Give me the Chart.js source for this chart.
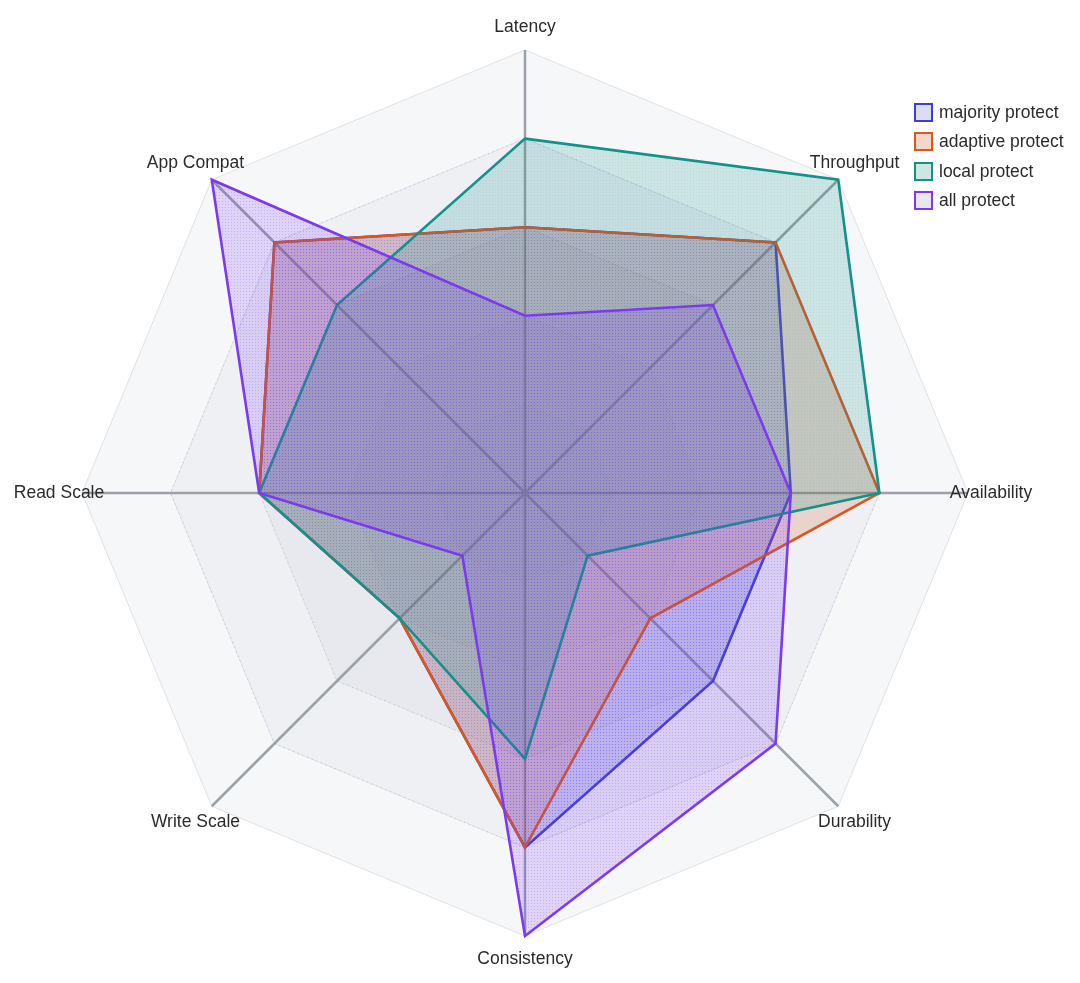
<!DOCTYPE html>
<html>
<head>
<meta charset="utf-8">
<script src="https://cdn.jsdelivr.net/npm/chart.js@4.4.1/dist/chart.umd.min.js"></script>
<style>
  html, body { margin: 0; padding: 0; background: #ffffff; }
  #wrap { position: relative; width: 1080px; height: 983px; }
  #legend { position: absolute; left: 914px; top: 98px; font-family: "Liberation Sans", Arial, sans-serif; font-size: 17.5px; color: #2b2b2b; }
  .item { display: flex; align-items: center; height: 29.3px; }
  .box { width: 15px; height: 15px; border: 2px solid; margin-right: 6px; box-sizing: content-box; }
</style>
</head>
<body>
<div id="wrap">
  <canvas id="c" width="1080" height="983"></canvas>
  <div id="legend"></div>
</div>
<script>
// ---- data ----
const categories = ["Latency", "Throughput", "Availability", "Durability", "Consistency", "Write Scale", "Read Scale", "App Compat"];
const seriesNames = ["majority protect", "adaptive protect", "local protect", "all protect"];
const majorityProtect = [3, 4, 3, 3, 4, 2, 3, 4];
const adaptiveProtect = [3, 4, 4, 2, 4, 2, 3, 4];
const localProtect = [4, 5, 4, 1, 3, 2, 3, 3];
const allProtect = [2, 3, 3, 4, 5, 1, 3, 5];
const ringTicks = [1, 2, 3, 4, 5];

// ---- styles ----
const lineColors = ["#3b3fd8", "#d9581f", "#14918a", "#7c3aed"];
const rgbs = ["59,63,216", "217,88,31", "20,145,138", "124,58,237"];
const dotAlpha = [0.3, 0, 0.1, 0.24];
const legendFill = ["#dcdcf2", "#f5d6c7", "#cbe7e4", "#e8e6f0"];

function makePattern(rgb, alpha, dAlpha) {
  const s = 3;
  const c = document.createElement('canvas');
  c.width = s; c.height = s;
  const g = c.getContext('2d');
  g.fillStyle = `rgba(${rgb},${alpha})`;
  g.fillRect(0, 0, s, s);
  if (dAlpha > 0) {
    g.fillStyle = `rgba(${rgb},${dAlpha})`;
    g.fillRect(0, 0, 1, 1);
  }
  return g.createPattern(c, 'repeat');
}

const seriesValues = [majorityProtect, adaptiveProtect, localProtect, allProtect];

const datasets = seriesValues.map((vals, i) => ({
  label: seriesNames[i],
  data: vals,
  order: seriesValues.length - 1 - i,
  borderColor: lineColors[i],
  borderWidth: 2.6,
  borderJoinStyle: 'miter',
  backgroundColor: makePattern(rgbs[i], 0.19, dotAlpha[i]),
  fill: true,
  pointRadius: 0,
  pointHoverRadius: 0,
  tension: 0
}));

function ringPath(ctx, sc, r) {
  ctx.beginPath();
  for (let i = 0; i < categories.length; i++) {
    const p = sc.getPointPosition(i, r);
    if (i === 0) ctx.moveTo(p.x, p.y); else ctx.lineTo(p.x, p.y);
  }
  ctx.closePath();
}

const bandsPlugin = {
  id: 'bands',
  beforeDraw(chart) {
    const sc = chart.scales.r;
    const ctx = chart.ctx;
    ctx.save();
    for (let k = ringTicks.length - 1; k >= 0; k--) {
      ringPath(ctx, sc, sc.getDistanceFromCenterForValue(ringTicks[k]));
      ctx.fillStyle = 'rgba(125,135,160,0.065)';
      ctx.fill();
    }
    ctx.restore();
  },
  afterDatasetsDraw(chart) {
    const sc = chart.scales.r;
    const ctx = chart.ctx;
    ctx.save();
    ctx.setLineDash([1, 4]);
    ctx.lineWidth = 1;
    ctx.strokeStyle = 'rgba(110,100,150,0.3)';
    for (let k = 0; k < ringTicks.length - 1; k++) {
      ringPath(ctx, sc, sc.getDistanceFromCenterForValue(ringTicks[k]));
      ctx.stroke();
    }
    ctx.setLineDash([]);
    ctx.font = '17.5px "Liberation Sans", Arial, sans-serif';
    ctx.fillStyle = '#2b2b2b';
    ctx.textAlign = 'center';
    ctx.textBaseline = 'middle';
    for (let i = 0; i < categories.length; i++) {
      const p = sc.getPointPosition(i, sc.drawingArea + 23);
      ctx.fillText(categories[i], p.x, p.y);
    }
    ctx.restore();
  }
};

new Chart(document.getElementById('c'), {
  type: 'radar',
  data: { labels: categories, datasets },
  options: {
    responsive: false,
    animation: false,
    devicePixelRatio: 1,
    layout: { padding: { left: 82, right: 112, top: 50, bottom: 47 } },
    plugins: { legend: { display: false }, tooltip: { enabled: false } },
    elements: { line: { tension: 0 } },
    scales: {
      r: {
        min: 0,
        max: 5,
        beginAtZero: true,
        ticks: { display: false, stepSize: 1 },
        pointLabels: { display: false },
        grid: { color: '#dfe1e6', lineWidth: 1, circular: false },
        angleLines: { color: '#9aa1a7', lineWidth: 2.5 }
      }
    }
  },
  plugins: [bandsPlugin]
});

const legend = document.getElementById('legend');
seriesNames.forEach((n, i) => {
  const it = document.createElement('div');
  it.className = 'item';
  const b = document.createElement('div');
  b.className = 'box';
  b.style.borderColor = lineColors[i];
  b.style.background = legendFill[i];
  const t = document.createElement('span');
  t.textContent = n;
  it.appendChild(b); it.appendChild(t);
  legend.appendChild(it);
});
</script>
</body>
</html>
